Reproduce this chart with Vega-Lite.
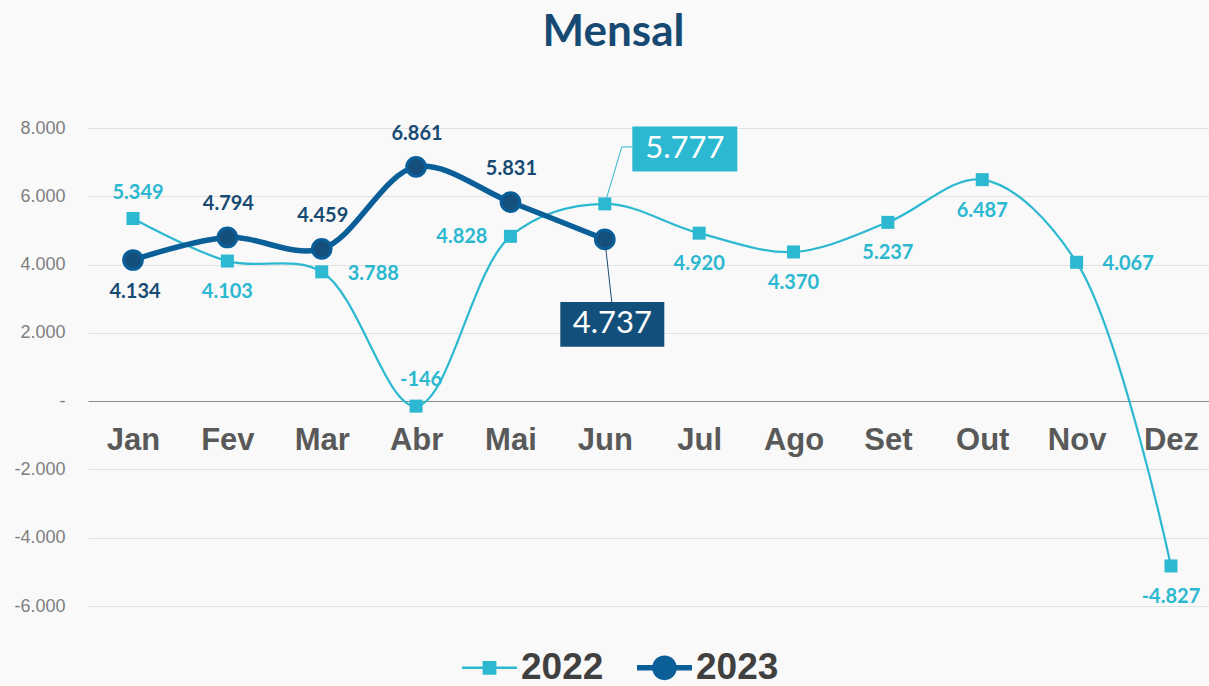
{
  "$schema": "https://vega.github.io/schema/vega-lite/v6.json",
  "width": 1121,
  "height": 478,
  "autosize": {"type": "none"},
  "padding": {"left": 88, "top": 128, "right": 0, "bottom": 80},
  "background": "#f9f9f9",
  "config": {
    "view": {"stroke": null},
    "locale": {"number": {"decimal": ",", "thousands": ".", "grouping": [3], "currency": ["", ""], "minus": "-"}},
    "text": {"font": "Lato", "fontWeight": "bold", "fontSize": 20, "baseline": "middle"}
  },
  "title": {
    "text": "Mensal",
    "font": "Lato",
    "fontSize": 44,
    "fontWeight": "bold",
    "color": "#174a72",
    "anchor": "middle",
    "frame": "group",
    "dx": -35,
    "offset": 64
  },
  "data": {
    "values": [
      {"ano": "2022", "mes": "Jan", "valor": 5349},
      {"ano": "2022", "mes": "Fev", "valor": 4103},
      {"ano": "2022", "mes": "Mar", "valor": 3788},
      {"ano": "2022", "mes": "Abr", "valor": -146},
      {"ano": "2022", "mes": "Mai", "valor": 4828},
      {"ano": "2022", "mes": "Jun", "valor": 5777},
      {"ano": "2022", "mes": "Jul", "valor": 4920},
      {"ano": "2022", "mes": "Ago", "valor": 4370},
      {"ano": "2022", "mes": "Set", "valor": 5237},
      {"ano": "2022", "mes": "Out", "valor": 6487},
      {"ano": "2022", "mes": "Nov", "valor": 4067},
      {"ano": "2022", "mes": "Dez", "valor": -4827},
      {"ano": "2023", "mes": "Jan", "valor": 4134},
      {"ano": "2023", "mes": "Fev", "valor": 4794},
      {"ano": "2023", "mes": "Mar", "valor": 4459},
      {"ano": "2023", "mes": "Abr", "valor": 6861},
      {"ano": "2023", "mes": "Mai", "valor": 5831},
      {"ano": "2023", "mes": "Jun", "valor": 4737}
    ]
  },
  "encoding": {
    "x": {
      "field": "mes",
      "type": "ordinal",
      "sort": ["Jan", "Fev", "Mar", "Abr", "Mai", "Jun", "Jul", "Ago", "Set", "Out", "Nov", "Dez"],
      "scale": {"type": "point", "padding": 0.44, "align": 0.542},
      "axis": {
        "title": null,
        "orient": "bottom",
        "offset": -205,
        "domain": false,
        "ticks": false,
        "grid": false,
        "labelAngle": 0,
        "labelOverlap": false,
        "labelFont": "Liberation Sans",
        "labelFontSize": 31,
        "labelFontWeight": "bold",
        "labelColor": "#595959",
        "labelPadding": 24
      }
    },
    "y": {
      "field": "valor",
      "type": "quantitative",
      "scale": {"domain": [-6000, 8000], "nice": false, "zero": false},
      "axis": {
        "title": null,
        "values": [-6000, -4000, -2000, 0, 2000, 4000, 6000, 8000],
        "domain": false,
        "ticks": false,
        "format": ",d",
        "labelExpr": "datum.value == 0 ? '-\u00a0\u00a0' : datum.label",
        "labelFont": "Liberation Sans",
        "labelFontSize": 18,
        "labelColor": "#7f7f7f",
        "labelPadding": 23,
        "gridColor": {"condition": {"test": "datum.value === 0", "value": "#8c8c8c"}, "value": "#e2e2e2"},
        "gridWidth": 1.2
      }
    }
  },
  "layer": [
    {
      "transform": [{"filter": "datum.ano == '2022'"}],
      "mark": {"type": "line", "interpolate": "catmull-rom", "strokeWidth": 2.2, "color": "#2bb8d0"},
      "encoding": {}
    },
    {
      "transform": [{"filter": "datum.ano == '2022'"}],
      "mark": {"type": "point", "shape": "square", "filled": true, "size": 169, "color": "#2bb8d0", "opacity": 1}
    },
    {
      "transform": [{"filter": "datum.ano == '2023'"}],
      "mark": {"type": "line", "interpolate": "catmull-rom", "strokeWidth": 5.5, "color": "#0b5f99"},
      "encoding": {}
    },
    {
      "transform": [{"filter": "datum.ano == '2023'"}],
      "mark": {"type": "point", "shape": "circle", "filled": true, "size": 350, "fill": "#154f7c", "stroke": "#0b5f99", "strokeWidth": 3, "opacity": 1}
    },
    {
      "transform": [{"filter": "datum.ano == '2022' && datum.mes == 'Jun'"}],
      "mark": {"type": "rule", "color": "#2bb8d0", "strokeWidth": 1, "x2Offset": 17, "y2Offset": -57},
      "encoding": {"x2": {"field": "mes"}, "y2": {"field": "valor"}}
    },
    {
      "transform": [{"filter": "datum.ano == '2022' && datum.mes == 'Jun'"}],
      "mark": {"type": "rule", "color": "#2bb8d0", "strokeWidth": 1, "xOffset": 17, "yOffset": -57, "x2Offset": 28, "y2Offset": -57},
      "encoding": {"x2": {"field": "mes"}, "y2": {"field": "valor"}}
    },
    {
      "transform": [{"filter": "datum.ano == '2023' && datum.mes == 'Jun'"}],
      "mark": {"type": "rule", "color": "#174b74", "strokeWidth": 1, "x2Offset": 7, "y2Offset": 63},
      "encoding": {"x2": {"field": "mes"}, "y2": {"field": "valor"}}
    },
    {
      "transform": [{"filter": "datum.ano == '2022' && datum.mes == 'Jun'"}],
      "mark": {"type": "point", "shape": "M-1,-0.4286H1V0.4286H-1Z", "filled": true, "size": 11025, "color": "#2bb8d0", "opacity": 1, "xOffset": 80, "yOffset": -55}
    },
    {
      "transform": [{"filter": "datum.ano == '2022' && datum.mes == 'Jun'"}],
      "mark": {"type": "text", "color": "#ffffff", "fontSize": 31, "fontWeight": "normal", "align": "center", "dx": 80, "dy": -55},
      "encoding": {"text": {"field": "valor", "type": "quantitative", "format": ",d"}}
    },
    {
      "transform": [{"filter": "datum.ano == '2023' && datum.mes == 'Jun'"}],
      "mark": {"type": "point", "shape": "M-1,-0.4286H1V0.4286H-1Z", "filled": true, "size": 10816, "color": "#134f7b", "opacity": 1, "xOffset": 7.5, "yOffset": 85}
    },
    {
      "transform": [{"filter": "datum.ano == '2023' && datum.mes == 'Jun'"}],
      "mark": {"type": "text", "color": "#ffffff", "fontSize": 31, "fontWeight": "normal", "align": "center", "dx": 7.5, "dy": 85},
      "encoding": {"text": {"field": "valor", "type": "quantitative", "format": ",d"}}
    },
    {
      "transform": [{"filter": "datum.ano == '2022' && indexof(['Fev','Jul','Ago','Set','Out','Dez'], datum.mes) >= 0"}],
      "mark": {"type": "text", "color": "#2bb8d0", "align": "center", "dy": 31},
      "encoding": {"text": {"field": "valor", "type": "quantitative", "format": ",d"}}
    },
    {
      "transform": [{"filter": "datum.ano == '2022' && indexof(['Jan','Abr'], datum.mes) >= 0"}],
      "mark": {"type": "text", "color": "#2bb8d0", "align": "center", "dx": 5, "dy": -26},
      "encoding": {"text": {"field": "valor", "type": "quantitative", "format": ",d"}}
    },
    {
      "transform": [{"filter": "datum.ano == '2022' && indexof(['Mar','Nov'], datum.mes) >= 0"}],
      "mark": {"type": "text", "color": "#2bb8d0", "align": "left", "dx": 26, "dy": 2},
      "encoding": {"text": {"field": "valor", "type": "quantitative", "format": ",d"}}
    },
    {
      "transform": [{"filter": "datum.ano == '2022' && datum.mes == 'Mai'"}],
      "mark": {"type": "text", "color": "#2bb8d0", "align": "right", "dx": -23, "dy": 1},
      "encoding": {"text": {"field": "valor", "type": "quantitative", "format": ",d"}}
    },
    {
      "transform": [{"filter": "datum.ano == '2023' && datum.mes == 'Jan'"}],
      "mark": {"type": "text", "color": "#174b74", "align": "center", "dx": 2, "dy": 32},
      "encoding": {"text": {"field": "valor", "type": "quantitative", "format": ",d"}}
    },
    {
      "transform": [{"filter": "datum.ano == '2023' && indexof(['Fev','Mar','Abr','Mai'], datum.mes) >= 0"}],
      "mark": {"type": "text", "color": "#174b74", "align": "center", "dx": 1, "dy": -33},
      "encoding": {"text": {"field": "valor", "type": "quantitative", "format": ",d"}}
    },
    {
      "transform": [{"filter": "datum.valor > 100000"}],
      "mark": {"type": "point", "filled": true, "opacity": 1, "size": 3025},
      "encoding": {
        "color": {
          "field": "ano", "type": "nominal",
          "scale": {"domain": ["2022", "2023"], "range": ["#2bb8d0", "#0b5f99"]},
          "legend": {"title": null, "orient": "none", "direction": "horizontal", "legendX": 374, "legendY": 512, "labelFont": "Liberation Sans", "labelFontSize": 37, "labelFontWeight": "bold", "labelColor": "#404040", "labelOffset": 4, "symbolSize": 3025, "columnPadding": 33, "padding": 0, "symbolStrokeWidth": 0, "symbolOpacity": 1}
        },
        "shape": {
          "field": "ano", "type": "nominal",
          "scale": {"domain": ["2022", "2023"], "range": ["M-1,-0.045H1V0.045H-1Z M-0.25,-0.25H0.25V0.25H-0.25Z", "M-1,-0.1H1V0.1H-1Z M-0.45,0A0.45,0.45 0 1,1 0.45,0A0.45,0.45 0 1,1 -0.45,0Z"]},
          "legend": {"title": null, "orient": "none", "direction": "horizontal", "legendX": 374, "legendY": 512, "labelFont": "Liberation Sans", "labelFontSize": 37, "labelFontWeight": "bold", "labelColor": "#404040", "labelOffset": 4, "symbolSize": 3025, "columnPadding": 33, "padding": 0, "symbolStrokeWidth": 0, "symbolOpacity": 1}
        }
      }
    }
  ]
}
